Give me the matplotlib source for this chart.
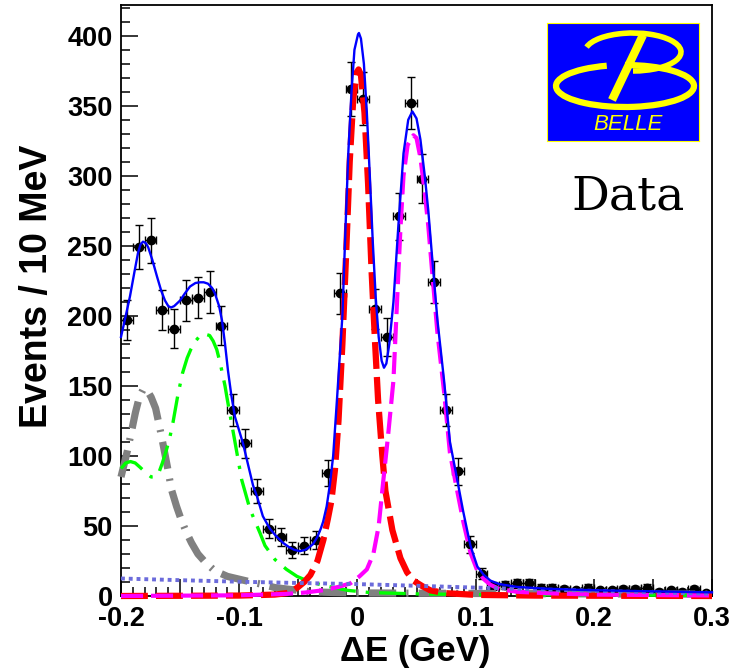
"""
plot.py
-------
Delta E fit projection (Belle style): data points with Poisson error bars,
signal / background fit components and the total fit curve.
"""

import numpy as np
import matplotlib
matplotlib.use("Agg")
import matplotlib.pyplot as plt
from matplotlib.patches import Arc
from matplotlib.ticker import MultipleLocator

plt.rcParams["axes.unicode_minus"] = False
plt.rcParams["font.family"] = ["Liberation Sans", "DejaVu Sans"]

# =========================================================================
# DATA
# =========================================================================

data_x = [-0.195, -0.185, -0.175, -0.165, -0.155, -0.145, -0.135, -0.125, -0.115, -0.105,
          -0.095, -0.085, -0.075, -0.065, -0.055, -0.045, -0.035, -0.025, -0.015, -0.005,
          0.005, 0.015, 0.025, 0.035, 0.045, 0.055, 0.065, 0.075, 0.085, 0.095,
          0.105, 0.115, 0.125, 0.135, 0.145, 0.155, 0.165, 0.175, 0.185, 0.195,
          0.205, 0.215, 0.225, 0.235, 0.245, 0.255, 0.265, 0.275, 0.285, 0.295]
data_y = [197, 249, 254, 204, 191, 211, 213, 217, 193, 133,
          109, 75, 48, 42, 33, 36, 40, 88, 216, 362,
          355, 205, 185, 271, 352, 298, 224, 133, 89, 37,
          16, 7, 8, 9, 9, 6, 6, 5, 4, 6,
          4, 4, 5, 5, 6, 3, 4, 3, 5, 2]

# total fit (blue solid)
total_x = [-0.200, -0.196, -0.1924, -0.1885, -0.1856, -0.1835, -0.1814, -0.179, -0.177, -0.1735,
           -0.1695, -0.166, -0.1628, -0.160, -0.1577, -0.155, -0.150, -0.146, -0.1416, -0.137,
           -0.1332, -0.130, -0.1264, -0.123, -0.1205, -0.117, -0.1146, -0.112, -0.1095, -0.1066,
           -0.1036, -0.100, -0.0968, -0.092, -0.0883, -0.0849, -0.080, -0.074, -0.069, -0.063,
           -0.058, -0.0535, -0.0486, -0.044, -0.0405, -0.0376, -0.034, -0.031, -0.029, -0.026,
           -0.0232, -0.0205, -0.0173, -0.0150, -0.0127, -0.0101, -0.0076, -0.0050, -0.0025, 0.0005,
           0.0013, 0.0030, 0.0055, 0.0080, 0.0105, 0.0130, 0.0155, 0.0180, 0.0205, 0.0225,
           0.0245, 0.0270, 0.0305, 0.0347, 0.0390, 0.0430, 0.0465, 0.0500, 0.0533, 0.0570,
           0.0600, 0.0634, 0.0677, 0.0733, 0.0783, 0.0840, 0.0896, 0.0956, 0.1015, 0.1070,
           0.1125, 0.1200, 0.1350, 0.1600, 0.1910, 0.2300, 0.2650, 0.3000]
total_y = [185, 200, 214, 232, 245, 251, 253, 252, 249, 240,
           228, 218, 211, 207, 206, 207, 211, 216, 221, 223.5,
           224, 224, 223, 220, 216, 207, 197, 180, 161, 143,
           128, 118, 109, 92, 79, 71, 57, 48, 43, 38,
           35, 33, 32, 33, 35, 37, 42, 48, 53, 64,
           80, 100, 140, 170, 200, 262, 318, 360, 390, 401,
           402, 398, 380, 345, 300, 253, 213, 185, 168, 163,
           166, 180, 210, 265, 316, 340, 346, 341, 326, 300,
           275, 240, 197, 154, 110, 85, 60, 36, 21, 15,
           11, 8.5, 6.5, 5.2, 4.3, 3.6, 3.1, 2.6]

# signal peak at 0 (red thick dashed)
red_x = [-0.200, -0.100, -0.070, -0.060, -0.0558, -0.0508, -0.0450, -0.0398, -0.0338, -0.0288,
         -0.0250, -0.0220, -0.0190, -0.0160, -0.0127, -0.0095, -0.0065, -0.0035, -0.0005, 0.0010,
         0.0030, 0.0060, 0.0090, 0.0120, 0.0150, 0.0175, 0.0211, 0.0237, 0.0296, 0.0364,
         0.0420, 0.0474, 0.0550, 0.0618, 0.0750, 0.1000, 0.1500, 0.3000]
red_y = [0, 0.3, 1, 2, 3, 6, 10, 15, 25, 40,
         55, 68, 90, 125, 180, 245, 310, 355, 374, 376,
         372, 345, 295, 232, 180, 140, 100, 75, 47, 27,
         17, 11, 7, 4, 2, 0.8, 0.3, 0]

# second peak (magenta dashed)
mag_x = [-0.200, -0.100, -0.060, -0.044, -0.030, -0.016, -0.006, 0.0017, 0.008, 0.0135,
         0.018, 0.022, 0.026, 0.0305, 0.0338, 0.0364, 0.039, 0.0425, 0.0474, 0.0500,
         0.0533, 0.0570, 0.0600, 0.0634, 0.0677, 0.0733, 0.0783, 0.0840, 0.0896, 0.0956,
         0.1015, 0.1070, 0.1125, 0.1200, 0.1350, 0.1600, 0.2000, 0.3000]
mag_y = [0, 0.5, 1.5, 2.5, 4, 6.5, 9, 14, 19, 30,
         50, 83, 115, 154, 215, 262, 300, 322, 329, 327,
         313, 288, 264, 230, 188, 146, 102, 77, 53, 31,
         18, 12, 8, 5, 3, 2, 1, 0.4]

# feed-down component (green dash-dot)
green_x = [-0.200, -0.196, -0.192, -0.188, -0.184, -0.179, -0.1745, -0.171, -0.168, -0.165,
           -0.162, -0.159, -0.156, -0.152, -0.148, -0.144, -0.141, -0.137, -0.133, -0.129,
           -0.125, -0.122, -0.119, -0.116, -0.112, -0.110, -0.104, -0.0979, -0.0909, -0.0824,
           -0.0782, -0.0697, -0.0600, -0.0511, -0.0400, -0.0257, -0.008, 0.010, 0.050, 0.100,
           0.200, 0.300]
green_y = [91, 95, 96, 95, 92, 88, 85, 85, 88, 95,
           103, 112, 124, 143, 159, 170, 176, 182, 186, 187,
           186, 182, 176, 166, 150, 140, 112, 83, 62, 45,
           36, 26, 19, 14, 10, 7, 4, 2.5, 1.5, 1,
           0.7, 0.5]

# peaking background (gray thick dash-dot)
gray_x = [-0.200, -0.1965, -0.1945, -0.191, -0.1878, -0.1845, -0.181, -0.178, -0.1745, -0.1707,
          -0.1657, -0.1607, -0.1573, -0.1530, -0.1497, -0.1450, -0.1404, -0.1349, -0.1286, -0.1207,
          -0.110, -0.100, -0.090, -0.0816, -0.0697, -0.055, -0.039, -0.020, 0.000, 0.050,
          0.100, 0.200, 0.300]
gray_y = [85, 97, 104, 118, 131, 142, 148, 147, 142, 134,
          114, 92, 76, 64, 56, 46, 38, 30, 24, 18,
          14, 12, 10, 8.5, 6, 4.5, 3, 2.5, 2.2, 2,
          1.8, 1.5, 1.3]

# combinatorial background (dotted)
bkg_x = [-0.20, -0.15, -0.10, -0.05, 0.00, 0.05, 0.10, 0.15, 0.20, 0.25, 0.30]
bkg_y = [12.5, 11.3, 10.2, 9.3, 8.5, 7.3, 6.0, 4.8, 3.7, 2.6, 1.6]

x_tick_vals = [-0.2, -0.15, -0.1, -0.05, 0.0, 0.05, 0.1, 0.15, 0.2, 0.25, 0.3]
x_tick_labels = ["-0.2", "", "-0.1", "", "0", "", "0.1", "", "0.2", "", "0.3"]
y_tick_vals = [0, 50, 100, 150, 200, 250, 300, 350, 400]

# =========================================================================
# FIGURE
# =========================================================================

W, H = 746, 668
fig = plt.figure(figsize=(W / 100, H / 100), dpi=100)
ax = fig.add_axes([121 / W, 72 / H, 591 / W, 591 / H])

ax.errorbar(data_x, data_y, yerr=np.sqrt(data_y), xerr=0.005, fmt="o",
            color="black", ms=6, elinewidth=1.0, capsize=2.8, capthick=1.0, zorder=2)

ax.plot(gray_x, gray_y, color="#808080", lw=5.2, dashes=(3.8, 1.4, 0.3, 1.4),
        clip_on=False, zorder=3)
ax.plot(green_x, green_y, color="#00ff00", lw=2.4, dashes=(8, 3, 1, 3),
        clip_on=False, zorder=4)
ax.plot(red_x, red_y, color="#ff0000", lw=4.5, dashes=(4.3, 1.3),
        clip_on=False, zorder=5)
ax.plot(mag_x, mag_y, color="#ff00ff", lw=3, dashes=(5.3, 1.9),
        clip_on=False, zorder=6)
ax.plot(bkg_x, bkg_y, color="#6b6bdb", lw=2.8, dashes=(1, 1),
        clip_on=False, zorder=7)
ax.plot(total_x, total_y, color="#0000ff", lw=1.7, clip_on=False, zorder=8)

ax.set_xlim(-0.2, 0.3)
ax.set_ylim(0, 422)
ax.set_xticks(x_tick_vals, x_tick_labels)
ax.set_yticks(y_tick_vals)
ax.xaxis.set_minor_locator(MultipleLocator(0.01))
ax.yaxis.set_minor_locator(MultipleLocator(10))
ax.tick_params(which="major", direction="in", length=12.5, width=1.1,
               labelsize=19.5, pad=6)
ax.tick_params(axis="x", which="major", pad=7)
ax.tick_params(which="minor", direction="in", length=6.5, width=1.1)
for lab in ax.get_xticklabels() + ax.get_yticklabels():
    lab.set_fontweight("bold")
for sp in ax.spines.values():
    sp.set_linewidth(1.3)

fig.text(37 / W, 1 - 286 / H, "Events / 10 MeV", rotation=90, ha="center",
         va="center", fontsize=27, fontweight="bold")
fig.text(415 / W, 1 - 651 / H, "ΔE (GeV)", ha="center", va="center",
         fontsize=25, fontweight="bold")

fig.text(628.5 / W, 1 - 210 / H, "Data", ha="center", va="baseline",
         fontsize=34, family="DejaVu Serif")

# --- Belle logo ---
logo = fig.add_axes([547 / W, 1 - 141 / H, 152 / W, 118 / H])
logo.set_xlim(0, 152)
logo.set_ylim(0, 118)
logo.set_facecolor("#0000ff")
logo.set_xticks([])
logo.set_yticks([])
for sp in logo.spines.values():
    sp.set_color("#ffff00")
    sp.set_linewidth(0.8)
logo.add_patch(Arc((86, 89), 96, 38, theta1=-90, theta2=174,
                   color="#ffff00", lw=4))
logo.add_patch(Arc((78, 55), 138, 42, theta1=132, theta2=450,
                   color="#ffff00", lw=4.5))
logo.plot([96, 65], [106, 41], color="#ffff00", lw=6, solid_capstyle="butt")
logo.text(81, 17, "BELLE", ha="center", va="center", fontsize=16,
          style="italic", color="#ffff00", family="Liberation Sans")

fig.savefig("out.png", dpi=100)
